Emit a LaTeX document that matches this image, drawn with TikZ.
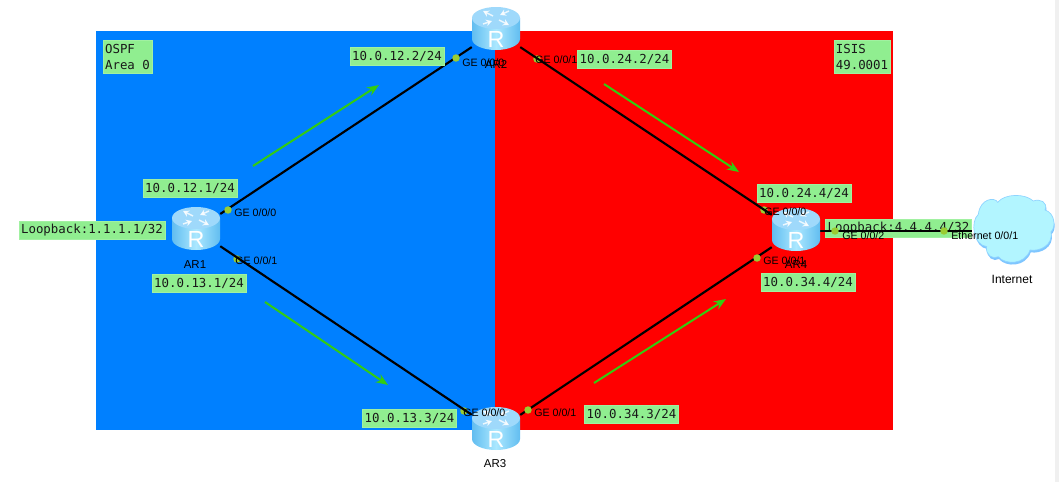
\documentclass[tikz,border=0pt]{standalone}
\usepackage{fontspec}
\setmainfont{Liberation Sans}
\newfontfamily\lblfont{DejaVu Sans Mono}
\usetikzlibrary{arrows.meta,calc}
\definecolor{ospfblue}{HTML}{0080FF}
\definecolor{isisred}{HTML}{FF0000}
\definecolor{lblgreen}{HTML}{90EE90}
\definecolor{dotgreen}{HTML}{9ACD32}
\definecolor{flowgreen}{HTML}{33CC11}
\definecolor{rtedge}{HTML}{62BDF0}
\definecolor{rtmid}{HTML}{ABE8FF}
\definecolor{rttop}{HTML}{9FD9FB}
\definecolor{cloudfill}{HTML}{B2F5FF}
\definecolor{cloudedge}{HTML}{7FC6FF}
\tikzset{
  x=0.75pt,y=-0.75pt,
  routerbox/.style={minimum width=36pt,minimum height=31.5pt,inner sep=0pt},
  lbl/.style={fill=lblgreen,draw=lblgreen!85!white,line width=0.4pt,inner xsep=1.5pt,inner ysep=0pt,minimum height=13.5pt,font=\lblfont\fontsize{9.3}{12}\selectfont,text=black!90,align=left},
  twolbl/.style={lbl,minimum height=24.5pt},
  iflabel/.style={anchor=west,inner sep=0pt,font=\fontsize{8}{10}\selectfont,text=black},
  devlabel/.style={inner sep=0pt,font=\fontsize{8.6}{10}\selectfont,text=black},
  link/.style={line width=1.6pt,black},
  flow/.style={line width=1.5pt,flowgreen,-{Stealth[length=9pt,width=7pt]}},
  portdot/.style={circle,fill=dotgreen,inner sep=0pt,minimum size=5.6pt},
}
\newcommand{\routericon}[2]{%
  \begin{scope}[shift={(#1,#2)}]
    \shade[left color=rtedge,right color=rtedge,middle color=rtmid]
      (-24,-11) -- (-24,10) arc[start angle=180,end angle=0,x radius=24,y radius=11] -- (24,-11) -- cycle;
    \fill[rttop] (0,-11) ellipse[x radius=24,y radius=11];
    \begin{scope}[white,line width=1.1pt,opacity=.8,-{Stealth[length=4.5pt,width=5pt]}]
      \draw (-3,-13) -- (-13,-18);
      \draw (13,-18) -- (4,-14);
      \draw (3,-9) -- (13,-4);
      \draw (-13,-5) -- (-4,-8);
    \end{scope}
    \node[inner sep=0pt,text=white,font=\fontsize{17.5}{18}\selectfont] at (0,10) {R};
  \end{scope}}
\newcommand{\cloudpath}{(40,88) .. controls (45,40) and (90,35) .. (98,52)
  .. controls (120,25) and (180,25) .. (205,48)
  .. controls (225,40) and (250,52) .. (240,75)
  .. controls (272,85) and (272,130) .. (258,140)
  .. controls (265,180) and (225,200) .. (195,195)
  .. controls (180,240) and (120,240) .. (100,215)
  .. controls (85,225) and (60,210) .. (65,185)
  .. controls (25,180) and (15,110) .. (40,88) -- cycle}
\begin{document}
\begin{tikzpicture}
\useasboundingbox (0,0) rectangle (1059,482);
\fill[white] (0,0) rectangle (1059,482);
\fill[black!6] (1055,0) rectangle (1059,482);
\fill[ospfblue] (96,31) rectangle (495,430);
\fill[isisred] (495,31) rectangle (893,430);

% routers (anchors for the links; painted after the links)
\node[routerbox] (AR1) at (196,230) {};
\node[routerbox] (AR2) at (496,31) {};
\node[routerbox] (AR3) at (496,431) {};
\node[routerbox] (AR4) at (796,231) {};
\node[minimum width=62pt,minimum height=51pt,inner sep=0pt] (NET) at (1014,231) {};

% cloud
\begin{scope}[shift={(965,185)},x=0.25pt,y=-0.25pt]
  \fill[cloudedge] [shift={(2,7)}] \cloudpath;
  \fill[cloudfill] \cloudpath;
  \draw[cloudedge!70!cloudfill,line width=0.5pt] \cloudpath;
\end{scope}

% loopback label under the AR4 link
\node[lbl] (L44) at (898.5,228) {Loopback:4.4.4.4/32};

% ports under the links
\node[portdot] (p12) at (237,259) {};
\node[portdot] (p22) at (537,59) {};
\node[portdot] (p31) at (464,411) {};
\node[portdot] (p41) at (764,210) {};

% links
\draw[link] (AR1) -- (AR2);
\draw[link] (AR1) -- (AR3);
\draw[link] (AR2) -- (AR4);
\draw[link] (AR3) -- (AR4);
\draw[link,line width=2pt] (AR4) -- (NET);

% ports over the links
\node[portdot] (p11) at (228,210) {};
\node[portdot] (p21) at (456,58) {};
\node[portdot] (p32) at (528,410) {};
\node[portdot] (p42) at (757,258) {};
\node[portdot] (p43) at (835,231) {};
\node[portdot] (pn1) at (944,231) {};

% traffic arrows
\coordinate (f1a) at (253,166); \coordinate (f1b) at (379,85);
\coordinate (f2a) at (604,84);  \coordinate (f2b) at (739,172);
\coordinate (f3a) at (265,302); \coordinate (f3b) at (388,385);
\coordinate (f4a) at (594,383); \coordinate (f4b) at (726,299);
\draw[flow] (f1a) -- (f1b);
\draw[flow] (f2a) -- (f2b);
\draw[flow] (f3a) -- (f3b);
\draw[flow] (f4a) -- (f4b);

% router icons
\routericon{196}{229}
\routericon{496}{29}
\routericon{496}{429}
\routericon{796}{230}

% address labels
\node[twolbl] (a0) at (127.5,57) {OSPF\\Area 0};
\node[twolbl] (a1) at (862,57) {ISIS\\49.0001};
\node[lbl] (l1) at (397,56.5) {10.0.12.2/24};
\node[lbl] (l2) at (624.5,59.5) {10.0.24.2/24};
\node[lbl] (l3) at (190,188) {10.0.12.1/24};
\node[lbl] (l4) at (92,230.5) {Loopback:1.1.1.1/32};
\node[lbl] (l5) at (199,283) {10.0.13.1/24};
\node[lbl] (l6) at (409.5,418) {10.0.13.3/24};
\node[lbl] (l7) at (631.5,414) {10.0.34.3/24};
\node[lbl] (l8) at (804,193.5) {10.0.24.4/24};
\node[lbl] (l9) at (808,282) {10.0.34.4/24};

% device names
\node[devlabel] (n1) at (195,265) {AR1};
\node[devlabel] (n2) at (496,64) {AR2};
\node[devlabel] (n3) at (495,464) {AR3};
\node[devlabel] (n4) at (796,265) {AR4};
\node[devlabel,font=\fontsize{9}{10}\selectfont] (n5) at (1012,279) {Internet};

% interface names
\node[iflabel] (i1) at (234,213) {GE 0/0/0};
\node[iflabel] (i2) at (235,261) {GE 0/0/1};
\node[iflabel] (i3) at (462,63) {GE 0/0/0};
\node[iflabel] (i4) at (535,60) {GE 0/0/1};
\node[iflabel] (i5) at (463,413) {GE 0/0/0};
\node[iflabel] (i6) at (534,413) {GE 0/0/1};
\node[iflabel] (i7) at (764,212) {GE 0/0/0};
\node[iflabel] (i8) at (763,261) {GE 0/0/1};
\node[iflabel] (i9) at (842,236) {GE 0/0/2};
\node[iflabel] (i10) at (951,236) {Ethernet 0/0/1};
\end{tikzpicture}
\end{document}
